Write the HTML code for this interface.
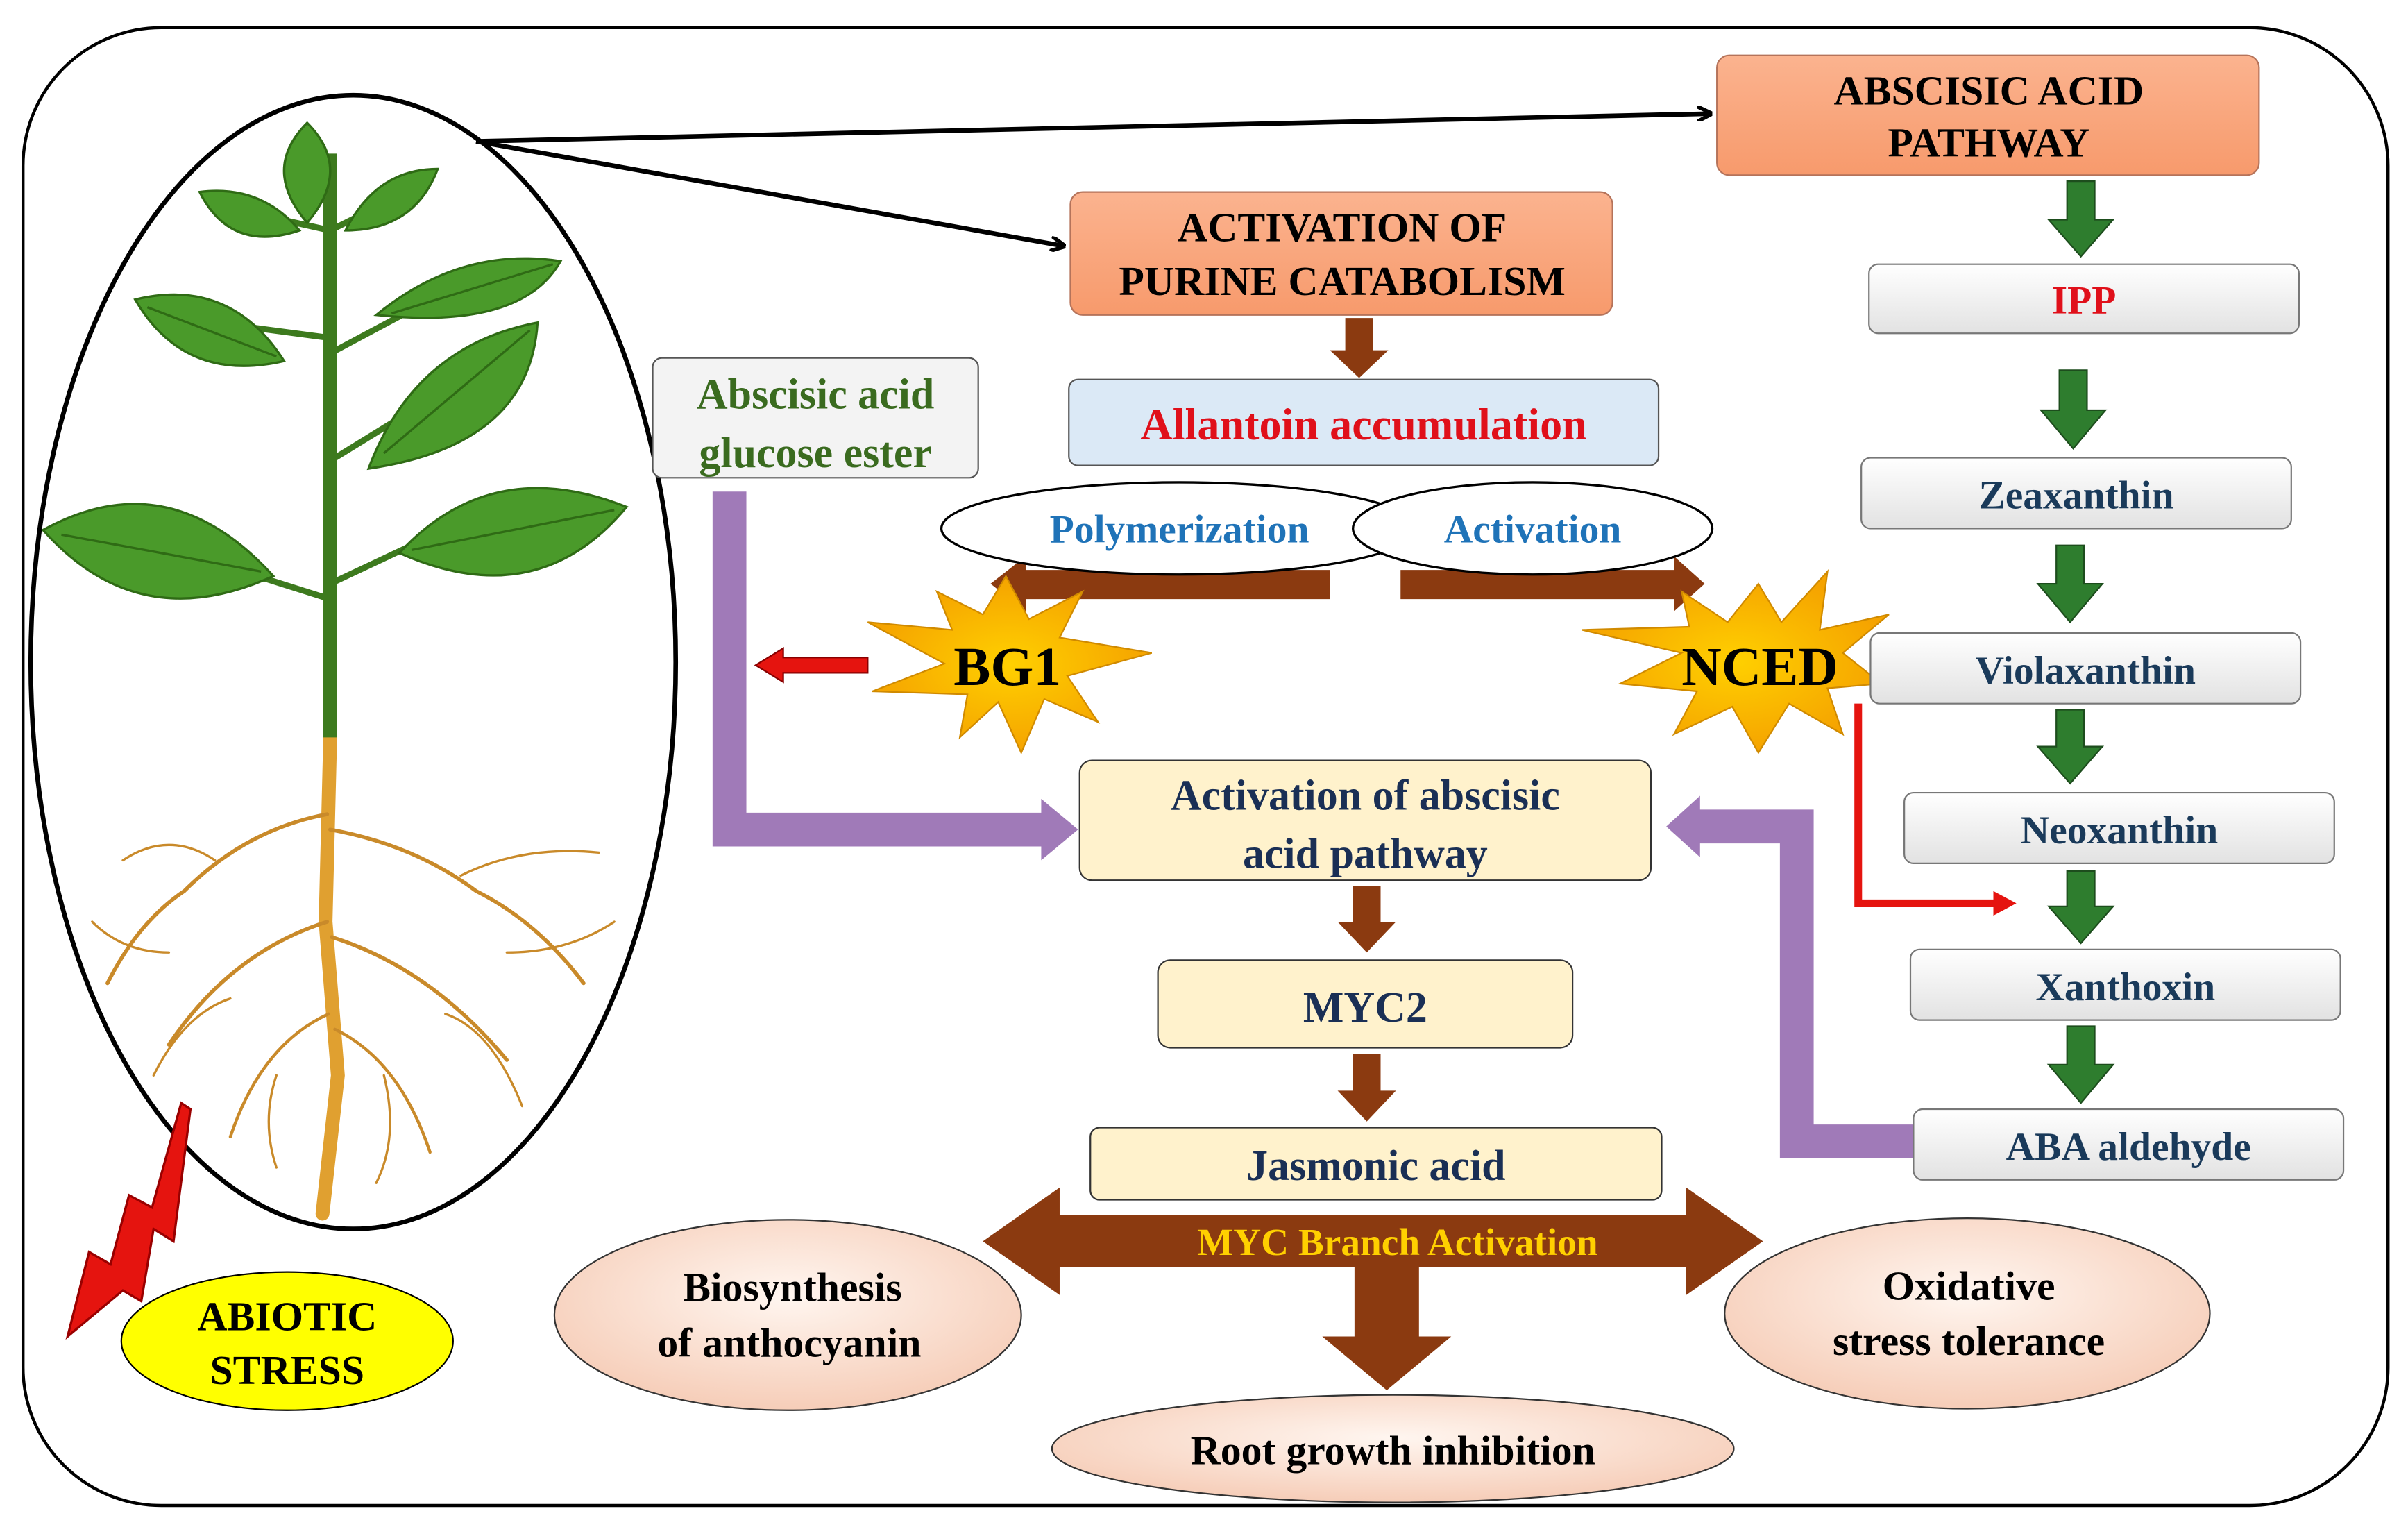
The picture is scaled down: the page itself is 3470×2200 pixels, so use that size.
<!DOCTYPE html>
<html><head><meta charset="utf-8"><style>
html,body{margin:0;padding:0;background:#fff;}
svg{display:block;}
text{font-family:"Liberation Serif",serif;font-weight:bold;}
</style></head><body>
<svg width="3470" height="2200" viewBox="0 0 1568 994" preserveAspectRatio="none" xmlns="http://www.w3.org/2000/svg">
<defs>
<linearGradient id="sal" x1="0" y1="0" x2="0" y2="1"><stop offset="0" stop-color="#fbb38f"/><stop offset="1" stop-color="#f79a6c"/></linearGradient>
<linearGradient id="gry" x1="0" y1="0" x2="0" y2="1"><stop offset="0" stop-color="#ffffff"/><stop offset="1" stop-color="#e2e2e2"/></linearGradient>
<radialGradient id="pk" cx="0.5" cy="0.4" r="0.6"><stop offset="0" stop-color="#fff6f0"/><stop offset="1" stop-color="#f6cdb8"/></radialGradient>
<radialGradient id="star" cx="0.5" cy="0.5" r="0.5"><stop offset="0" stop-color="#ffd000"/><stop offset="1" stop-color="#f5a300"/></radialGradient>
<marker id="ah" markerWidth="10" markerHeight="10" refX="8" refY="5" orient="auto" markerUnits="userSpaceOnUse"><path d="M0,0 L10,5 L0,10" fill="none" stroke="#000" stroke-width="2.5"/></marker>
</defs>
<rect x="15" y="18" width="1540" height="962" rx="90" fill="#fff" stroke="#000" stroke-width="2"/>

<ellipse cx="230" cy="431" rx="210" ry="369" fill="#fff" stroke="#000" stroke-width="3"/>
<g stroke="#c98a2a" fill="none" stroke-linecap="round">
<path d="M215 480 L212 600 L220 700 L210 790" stroke-width="9" stroke="#e0a030"/>
<path d="M213 530 Q160 540 120 580 Q90 600 70 640" stroke-width="2.5"/>
<path d="M215 540 Q270 550 310 580 Q350 600 380 640" stroke-width="2.5"/>
<path d="M213 600 Q150 620 110 680 M216 610 Q280 630 330 690" stroke-width="2.5"/>
<path d="M214 660 Q170 680 150 740 M218 670 Q260 690 280 750" stroke-width="2"/>
<path d="M140 560 Q110 540 80 560 M300 570 Q340 550 390 555 M110 620 Q80 620 60 600 M330 620 Q370 620 400 600" stroke-width="1.5"/>
<path d="M150 650 Q120 660 100 700 M290 660 Q320 670 340 720 M180 700 Q170 730 180 760 M250 700 Q260 740 245 770" stroke-width="1.5"/>
</g>
<path d="M215 480 L215 100" stroke="#3d7a1e" stroke-width="9" fill="none"/>
<g stroke="#3d7a1e" stroke-width="4" fill="none">
<path d="M215 150 L170 140 M215 150 L255 130 M215 220 L140 210 M215 230 L290 190 M215 300 L280 260 M215 390 L120 360 M215 380 L300 340"/>
</g>
<g fill="#4a9a2a" stroke="#2f6b15" stroke-width="1.5">
<path d="M200 80 Q230 110 200 145 Q170 110 200 80Z"/>
<path d="M130 125 Q170 120 195 150 Q150 165 130 125Z"/>
<path d="M285 110 Q270 150 225 150 Q245 110 285 110Z"/>
<path d="M88 195 Q150 180 185 235 Q120 250 88 195Z"/>
<path d="M365 170 Q340 215 245 205 Q300 160 365 170Z"/>
<path d="M350 210 Q345 290 240 305 Q270 225 350 210Z"/>
<path d="M28 345 Q110 300 178 375 Q90 415 28 345Z"/>
<path d="M408 330 Q350 400 260 360 Q320 295 408 330Z"/>
</g>
<g stroke="#2f6b15" stroke-width="1.5" fill="none">
<path d="M40 348 L170 372 M96 200 L180 232 M360 172 L255 204 M345 215 L250 295 M400 332 L268 358"/>
</g>
<polygon points="118,718 124,722 113,808 100,800 92,847 80,840 44,870 58,815 72,823 84,778 99,786" fill="#e5140f" stroke="#900" stroke-width="1.5"/>
<ellipse cx="187" cy="873" rx="108" ry="45" fill="#ffff00" stroke="#000" stroke-width="1"/>
<text x="187" y="866" font-size="27" text-anchor="middle">ABIOTIC</text>
<text x="187" y="901" font-size="27" text-anchor="middle">STRESS</text>

<line x1="310" y1="92" x2="1113" y2="74" stroke="#000" stroke-width="3" marker-end="url(#ah)"/>
<line x1="310" y1="92" x2="692" y2="160" stroke="#000" stroke-width="3" marker-end="url(#ah)"/>

<rect x="1118" y="36" width="353" height="78" rx="8" fill="url(#sal)" stroke="#b5735a" stroke-width="1"/>
<text x="1295" y="68" font-size="27" text-anchor="middle">ABSCISIC ACID</text>
<text x="1295" y="102" font-size="27" text-anchor="middle">PATHWAY</text>
<rect x="697" y="125" width="353" height="80" rx="8" fill="url(#sal)" stroke="#b5735a" stroke-width="1"/>
<text x="874" y="157" font-size="27" text-anchor="middle">ACTIVATION OF</text>
<text x="874" y="192" font-size="27" text-anchor="middle">PURINE CATABOLISM</text>

<g fill="#8b3a10">
<polygon points="876,207 894,207 894,228 904,228 885,246 866,228 876,228"/>
<polygon points="881,577 899,577 899,600 909,600 890,620 871,600 881,600"/>
<polygon points="881,686 899,686 899,710 909,710 890,730 871,710 881,710"/>
</g>

<rect x="696" y="247" width="384" height="56" rx="6" fill="#dbe9f6" stroke="#555" stroke-width="1"/>
<text x="888" y="286" font-size="29" fill="#e0101a" text-anchor="middle">Allantoin accumulation</text>

<rect x="425" y="233" width="212" height="78" rx="6" fill="#f3f3f3" stroke="#555" stroke-width="1"/>
<text x="531" y="266" font-size="28" fill="#3a6b1f" text-anchor="middle">Abscisic acid</text>
<text x="531" y="304" font-size="28" fill="#3a6b1f" text-anchor="middle">glucose ester</text>

<g fill="#8b3a10">
<polygon points="866,371 866,390 668,390 668,398 645,380 668,362 668,371"/>
<polygon points="912,371 912,390 1090,390 1090,398 1110,380 1090,362 1090,371"/>
</g>
<ellipse cx="768" cy="344" rx="155" ry="30" fill="#fff" stroke="#000" stroke-width="1.5"/>
<text x="768" y="353" font-size="26" fill="#1f73b8" text-anchor="middle">Polymerization</text>
<ellipse cx="998" cy="344" rx="117" ry="30" fill="#fff" stroke="#000" stroke-width="1.5"/>
<text x="998" y="353" font-size="26" fill="#1f73b8" text-anchor="middle">Activation</text>

<polygon points="655,375 670,403 705,385 690,415 750,425 695,440 715,470 680,455 665,490 650,457 625,480 630,452 568,450 615,432 565,405 620,410 610,385 640,400" fill="url(#star)" stroke="#d08a00" stroke-width="1"/>
<text x="656" y="446" font-size="36" text-anchor="middle">BG1</text>
<polygon points="1145,380 1160,405 1190,372 1185,410 1230,400 1200,425 1225,445 1190,448 1200,478 1165,458 1145,490 1128,460 1090,478 1105,450 1055,445 1095,425 1030,410 1100,408 1095,385 1125,405" fill="url(#star)" stroke="#d08a00" stroke-width="1"/>
<text x="1146" y="446" font-size="36" text-anchor="middle">NCED</text>

<polygon points="565,428 565,438 510,438 510,444 492,433 510,422 510,428" fill="#e5140f" stroke="#800" stroke-width="1"/>
<path d="M1210 458 L1210 588 L1300 588" fill="none" stroke="#e5140f" stroke-width="5"/>
<polygon points="1298,580 1313,588 1298,596" fill="#e5140f"/>

<path d="M475 320 L475 540 L680 540" fill="none" stroke="#a07ab8" stroke-width="22"/>
<polygon points="678,520 702,540 678,560" fill="#a07ab8"/>
<path d="M1246 743 L1170 743 L1170 538 L1105 538" fill="none" stroke="#a07ab8" stroke-width="22"/>
<polygon points="1107,518 1085,538 1107,558" fill="#a07ab8"/>

<rect x="703" y="495" width="372" height="78" rx="8" fill="#fff2cc" stroke="#333" stroke-width="1"/>
<text x="889" y="527" font-size="28" fill="#1a2f55" text-anchor="middle">Activation of abscisic</text>
<text x="889" y="565" font-size="28" fill="#1a2f55" text-anchor="middle">acid pathway</text>
<rect x="754" y="625" width="270" height="57" rx="8" fill="#fff2cc" stroke="#333" stroke-width="1"/>
<text x="889" y="665" font-size="28" fill="#1a2f55" text-anchor="middle">MYC2</text>
<rect x="710" y="734" width="372" height="47" rx="6" fill="#fff2cc" stroke="#333" stroke-width="1"/>
<text x="896" y="768" font-size="28" fill="#1a2f55" text-anchor="middle">Jasmonic acid</text>

<polygon points="640,808 690,773 690,791 1098,791 1098,773 1148,808 1098,843 1098,825 924,825 924,870 945,870 903,905 861,870 882,870 882,825 690,825 690,843" fill="#8b3a10"/>
<text x="910" y="817" font-size="25" fill="#ffd000" text-anchor="middle">MYC Branch Activation</text>

<ellipse cx="513" cy="856" rx="152" ry="62" fill="url(#pk)" stroke="#333" stroke-width="1"/>
<text x="516" y="847" font-size="27" text-anchor="middle">Biosynthesis</text>
<text x="514" y="883" font-size="27" text-anchor="middle">of anthocyanin</text>
<ellipse cx="1281" cy="855" rx="158" ry="62" fill="url(#pk)" stroke="#333" stroke-width="1"/>
<text x="1282" y="846" font-size="27" text-anchor="middle">Oxidative</text>
<text x="1282" y="882" font-size="27" text-anchor="middle">stress tolerance</text>
<ellipse cx="907" cy="943" rx="222" ry="35" fill="url(#pk)" stroke="#333" stroke-width="1"/>
<text x="907" y="953" font-size="27" text-anchor="middle">Root growth inhibition</text>

<g fill="#2e7d2e" stroke="#1d4d1d" stroke-width="1">
<polygon points="1346,118 1364,118 1364,143 1376,143 1355,167 1334,143 1346,143"/>
<polygon points="1341,241 1359,241 1359,267 1371,267 1350,292 1329,267 1341,267"/>
<polygon points="1339,355 1357,355 1357,380 1369,380 1348,405 1327,380 1339,380"/>
<polygon points="1339,462 1357,462 1357,486 1369,486 1348,510 1327,486 1339,486"/>
<polygon points="1346,567 1364,567 1364,590 1376,590 1355,614 1334,590 1346,590"/>
<polygon points="1346,668 1364,668 1364,693 1376,693 1355,718 1334,693 1346,693"/>
</g>
<g stroke="#777" stroke-width="1" fill="url(#gry)">
<rect x="1217" y="172" width="280" height="45" rx="6"/>
<rect x="1212" y="298" width="280" height="46" rx="6"/>
<rect x="1218" y="412" width="280" height="46" rx="6"/>
<rect x="1240" y="516" width="280" height="46" rx="6"/>
<rect x="1244" y="618" width="280" height="46" rx="6"/>
<rect x="1246" y="722" width="280" height="46" rx="6"/>
</g>
<g font-size="26" text-anchor="middle" fill="#1a3a5a">
<text x="1357" y="204" fill="#e0101a">IPP</text>
<text x="1352" y="331">Zeaxanthin</text>
<text x="1358" y="445">Violaxanthin</text>
<text x="1380" y="549">Neoxanthin</text>
<text x="1384" y="651">Xanthoxin</text>
<text x="1386" y="755">ABA aldehyde</text>
</g>
</svg>
</body></html>
